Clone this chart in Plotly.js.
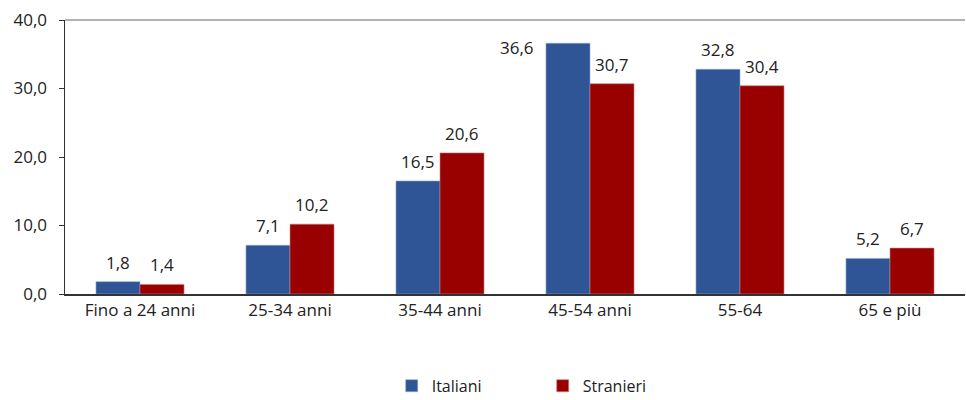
<!DOCTYPE html>
<html><head><meta charset="utf-8">
<script src="https://cdn.plot.ly/plotly-3.0.1.min.js"></script>
<style>body{margin:0;background:#fff}#c{width:966px;height:400px}</style>
</head><body><div id="c"></div>
<script>
const categories = ["Fino a 24 anni","25-34 anni","35-44 anni","45-54 anni","55-64","65 e più"];
const italiani = [1.8, 7.1, 16.5, 36.6, 32.8, 5.2];
const stranieri = [1.4, 10.2, 20.6, 30.7, 30.4, 6.7];
const yTicks = [0, 10, 20, 30, 40];

const fam = "'Open Sans', sans-serif";
const fs = 17;
const font = {family: fam, size: fs, color: "#222"};
const traces = [
  {type:"bar", name:"Italiani", x:categories, y:italiani,
   marker:{color:"#2F5597", line:{color:"#8FA6CC", width:0.6}}},
  {type:"bar", name:"Stranieri", x:categories, y:stranieri,
   marker:{color:"#990000", line:{color:"#C98080", width:0.6}}}
];
const fmt = v => v.toFixed(1).replace(".", ",");
const annotations = [];
const maxVal = Math.max(...italiani, ...stranieri);
[[italiani, -22], [stranieri, 22]].forEach(([vals, dx]) => {
  vals.forEach((v, i) => {
    const crowded = v === maxVal; // label moved beside the tallest bar, as in the original
    annotations.push({x: categories[i], y: v, text: fmt(v), showarrow: false,
      xshift: crowded ? dx - 32 : dx, yshift: crowded ? -4 : 6,
      xanchor: crowded ? "right" : "center", yanchor: crowded ? "middle" : "bottom",
      font: {family: fam, size: fs, color: "#222"}});
  });
});
const layout = {
  width:966, height:400, separators:",.",
  font:font, paper_bgcolor:"#fff", plot_bgcolor:"#fff",
  margin:{l:65, r:1, t:20, b:106, autoexpand:false},
  barmode:"group", bargap:0.413, bargroupgap:0,
  showlegend:true,
  legend:{orientation:"h", x:0.363, xanchor:"left", y:-0.335, yanchor:"middle",
          font:{size:16}, entrywidth:106, itemwidth:30, traceorder:"normal"},
  xaxis:{showline:true, linecolor:"#333", linewidth:1.5, ticks:"", tickfont:{size:fs}, fixedrange:true},
  yaxis:{range:[0,40], tickvals:yTicks, tickformat:".1f", showgrid:false, zeroline:false,
         showline:true, linecolor:"#333", linewidth:1.5, ticks:"outside", ticklen:5, tickcolor:"#333",
         tickfont:{size:fs}, ticklabelstandoff:8},
  annotations: annotations,
  shapes:[{type:"line", xref:"paper", yref:"paper", x0:0, x1:1, y0:1, y1:1, line:{color:"#999", width:1.5}}]
};
Plotly.newPlot("c", traces, layout, {displayModeBar:false, staticPlot:true});
</script></body></html>
